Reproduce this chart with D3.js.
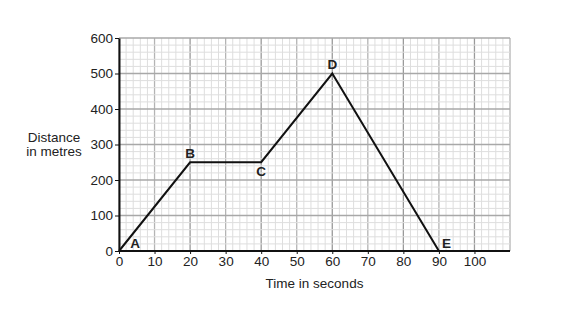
<!DOCTYPE html>
<html>
<head>
  <meta charset="utf-8">
  <title>Distance-time graph</title>
  <script src="https://cdn.jsdelivr.net/npm/d3@7"></script>
  <style>
    body { margin: 0; background: #fff; }
    text { font-family: Arial, "Liberation Sans", sans-serif; fill: #222; }
    .axis text { font-size: 13.5px; }
    .lbl { font-weight: bold; font-size: 13.5px; }
  </style>
</head>
<body>
<svg id="chart" width="579" height="317"></svg>
<script>
  // data
  const times = [0, 20, 40, 60, 90];
  const distances = [0, 250, 250, 500, 0];
  const pointLabels = ['A', 'B', 'C', 'D', 'E'];
  const xTicks = [0, 10, 20, 30, 40, 50, 60, 70, 80, 90, 100];
  const yTicks = [0, 100, 200, 300, 400, 500, 600];

  const margin = { left: 119, top: 38, right: 69, bottom: 66 };
  const w = 579 - margin.left - margin.right,
    h = 317 - margin.top - margin.bottom;

  const svg = d3.select('#chart');
  const g = svg.append('g')
    .attr('transform', `translate(${margin.left},${margin.top})`);

  const x = d3.scaleLinear().domain([0, 110]).range([0, w]);
  const y = d3.scaleLinear().domain([0, 600]).range([h, 0]);

  // minor grid every 2 s / 20 m
  g.append('g').selectAll('line')
    .data(d3.range(0, 110.01, 2))
    .join('line')
    .attr('x1', d => x(d)).attr('x2', d => x(d))
    .attr('y1', 0).attr('y2', h)
    .attr('stroke', d => d % 20 === 0 ? '#9a9a9a' : d % 10 === 0 ? '#b4b4b4' : '#dedede')
    .attr('stroke-width', d => d % 10 === 0 ? 1.3 : 1);

  g.append('g').selectAll('line')
    .data(d3.range(0, 600.01, 20))
    .join('line')
    .attr('x1', 0).attr('x2', w)
    .attr('y1', d => y(d)).attr('y2', d => y(d))
    .attr('stroke', d => d % 100 === 0 ? '#a8a8a8' : '#dedede')
    .attr('stroke-width', d => d % 100 === 0 ? 1.3 : 1);

  // axes
  const xAxis = g.append('g')
    .attr('class', 'axis')
    .attr('transform', `translate(0,${h})`)
    .call(d3.axisBottom(x).tickValues(xTicks).tickSize(3).tickPadding(2).tickSizeOuter(0));
  const yAxis = g.append('g')
    .attr('class', 'axis')
    .call(d3.axisLeft(y).tickValues(yTicks).tickSize(4).tickPadding(2).tickSizeOuter(0));
  [xAxis, yAxis].forEach(a => {
    a.select('.domain').attr('stroke', '#111').attr('stroke-width', 2);
    a.selectAll('.tick line').attr('stroke', '#111');
    a.selectAll('text').attr('fill', '#222');
  });
  // the bottom axis line runs over the full width
  xAxis.select('.domain').attr('d', `M0,0H${w}`);

  // axis titles
  svg.append('text')
    .attr('x', margin.left + x(55)).attr('y', 288)
    .attr('text-anchor', 'middle')
    .style('font-size', '13.5px')
    .text('Time in seconds');
  const yt = svg.append('text')
    .attr('x', 54).attr('y', 142)
    .attr('text-anchor', 'middle')
    .style('font-size', '13.5px');
  yt.append('tspan').attr('x', 54).text('Distance');
  yt.append('tspan').attr('x', 54).attr('dy', 14).text('in metres');

  // the journey
  const pts = times.map((t, i) => ({ t, d: distances[i], label: pointLabels[i] }));
  g.append('path')
    .datum(pts)
    .attr('fill', 'none')
    .attr('stroke', '#111')
    .attr('stroke-width', 2)
    .attr('stroke-linejoin', 'miter')
    .attr('d', d3.line().x(d => x(d.t)).y(d => y(d.d)));

  // point labels, offset per point
  const offs = { A: [16, -3, 'middle'], B: [0, -4, 'middle'], C: [0, 14, 'middle'], D: [0, -5, 'middle'], E: [3, -3, 'start'] };
  g.selectAll('.lbl')
    .data(pts)
    .join('text')
    .attr('class', 'lbl')
    .attr('x', d => x(d.t) + offs[d.label][0])
    .attr('y', d => y(d.d) + offs[d.label][1])
    .attr('text-anchor', d => offs[d.label][2])
    .text(d => d.label);
</script>
</body>
</html>
